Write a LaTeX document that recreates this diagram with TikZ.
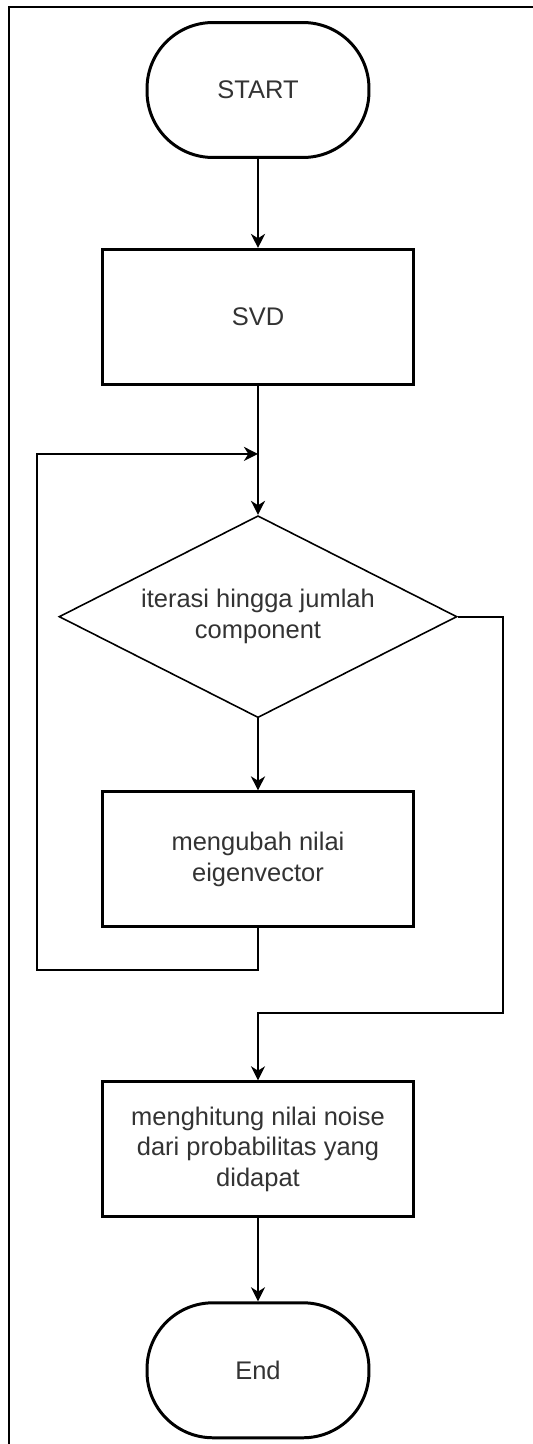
\documentclass[tikz,border=0pt]{standalone}
\usepackage{fontspec}
\setmainfont{Liberation Sans}
\usepackage{xcolor}
\usepackage{tikz}
\usetikzlibrary{arrows.meta,positioning,shapes.geometric}

\begin{document}
\begin{tikzpicture}[x=0.02cm, y=-0.02cm, >={Stealth[length=8pt,width=8pt,inset=2.5pt]}, every node/.style={font=\fontsize{14.5}{17.5}\selectfont, text=black!80}, term/.style={draw, line width=1.7pt, rounded corners=1.32cm, minimum width=4.44cm, minimum height=2.7cm}, box/.style={draw, line width=1.7pt, align=center, minimum width=6.22cm, minimum height=2.7cm}, cond/.style={draw, diamond, aspect=2, line width=0.9pt, inner sep=0pt, align=center, minimum width=7.96cm, minimum height=4.04cm}, link/.style={line width=1.2pt}]
\useasboundingbox (0,0) rectangle (533,1444);
\draw[line width=1.3pt] (9,1444) -- (9,7) -- (533,7);
\node[term] (start) at (258,90) {START};
\node[box, below=1.78cm of start] (svd) {SVD};
\node[cond, below=2.58cm of svd] (iter) {iterasi hingga jumlah\\component};
\node[box, below=1.44cm of iter] (ubah) {mengubah nilai\\eigenvector};
\node[box, below=3.04cm of ubah] (hitung) {menghitung nilai noise\\dari probabilitas yang\\didapat};
\node[term, below=1.66cm of hitung] (end) {End};
\coordinate[below=0.84cm of ubah.south] (back);
\coordinate[left=4.42cm of back] (backl);
\coordinate[below=1.36cm of svd.south] (entry);
\coordinate[right=0.9cm of iter.east] (skip);
\coordinate[above=1.34cm of hitung.north] (join);
\draw[link,->] (start) -- (svd);
\draw[link,->] (svd) -- (iter);
\draw[link,->] (iter) -- (ubah);
\draw[link,->] (ubah) -- (back) -- (backl) |- (entry);
\draw[link,->] (iter) -- (skip) |- (join) -- (hitung);
\draw[link,->] (hitung) -- (end);
\end{tikzpicture}
\end{document}
